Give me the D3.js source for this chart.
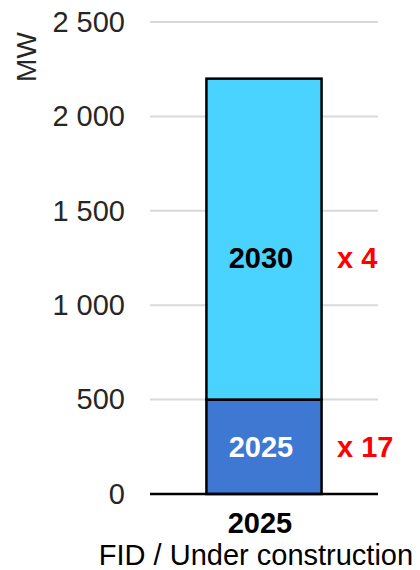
<!DOCTYPE html>
<html>
<head>
<meta charset="utf-8">
<script src="https://cdn.jsdelivr.net/npm/d3@7"></script>
<style>
  html, body { margin: 0; padding: 0; background: #ffffff; }
  svg { display: block; font-family: "Liberation Sans", Arial, sans-serif; }
</style>
</head>
<body>
<svg id="chart" width="420" height="570"></svg>
<script>
// Installed capacity, MW
const categories = ["2025"];
const segmentNames = ["2025", "2030"];
const values2025 = [500];
const values2030 = [1700];
const growthLabels = ["x 17", "x 4"];
// vertical anchor (MW) for the in-bar text and growth labels of each segment
const labelAnchors = [250, 1250];
const tickValues = [0, 500, 1000, 1500, 2000, 2500];
const categorySubtitle = "FID / Under construction";
const unitLabel = "MW";

const colors = { "2025": "#3E78D3", "2030": "#4BD3FF" };
const textColors = { "2025": "#ffffff", "2030": "#000000" };
const fontSize = 29;

const svg = d3.select("#chart");
const plot = { left: 150, right: 378, top: 22, bottom: 494 };

const x = d3.scaleBand()
  .domain(categories)
  .range([plot.left, plot.right])
  .paddingInner(0)
  .paddingOuter(0.49);

const y = d3.scaleLinear()
  .domain([0, 2500])
  .range([plot.bottom, plot.top]);

const locale = d3.formatLocale({ decimal: ",", thousands: " ", grouping: [3], currency: ["", ""] });
const fmt = locale.format(",d");

// gridlines
svg.append("g")
  .selectAll("line")
  .data(tickValues.filter(d => d > 0))
  .join("line")
  .attr("x1", plot.left).attr("x2", plot.right)
  .attr("y1", d => y(d)).attr("y2", d => y(d))
  .attr("stroke", "#d9d9d9")
  .attr("stroke-width", 2);

// y axis labels
const yAxis = d3.axisLeft(y)
  .tickValues(tickValues)
  .tickFormat(fmt)
  .tickSize(0)
  .tickPadding(25);

const yg = svg.append("g")
  .attr("transform", `translate(${plot.left},0)`)
  .call(yAxis);
yg.select(".domain").remove();
yg.selectAll("text")
  .attr("font-size", fontSize)
  .attr("fill", "#262626")
  .attr("font-family", "Liberation Sans, Arial, sans-serif");

// unit label
svg.append("text")
  .attr("transform", `translate(36,57) rotate(-90)`)
  .attr("text-anchor", "middle")
  .attr("font-size", fontSize - 1)
  .attr("fill", "#262626")
  .text(unitLabel);

// stacked bar
const rows = categories.map((c, i) => ({ cat: c, "2025": values2025[i], "2030": values2030[i] }));
const stacked = d3.stack().keys(segmentNames)(rows);

const segs = svg.append("g")
  .selectAll("g")
  .data(stacked)
  .join("g")
  .attr("fill", d => colors[d.key]);

segs.selectAll("rect")
  .data(d => d)
  .join("rect")
  .attr("x", d => x(d.data.cat))
  .attr("width", x.bandwidth())
  .attr("y", d => y(d[1]))
  .attr("height", d => y(d[0]) - y(d[1]))
  .attr("stroke", "#000000")
  .attr("stroke-width", 2.5);

// baseline
svg.append("line")
  .attr("x1", plot.left).attr("x2", plot.right)
  .attr("y1", y(0)).attr("y2", y(0))
  .attr("stroke", "#000000")
  .attr("stroke-width", 2.5);

// segment labels inside the bar and growth factors to the right
segmentNames.forEach((name, i) => {
  const cy = y(labelAnchors[i]);
  svg.append("text")
    .attr("x", x(categories[0]) + x.bandwidth() / 2 - 3)
    .attr("y", cy)
    .attr("dy", "0.36em")
    .attr("text-anchor", "middle")
    .attr("font-size", fontSize)
    .attr("font-weight", "bold")
    .attr("fill", textColors[name])
    .text(name);
  svg.append("text")
    .attr("x", 337)
    .attr("y", cy)
    .attr("dy", "0.36em")
    .attr("text-anchor", "start")
    .attr("font-size", fontSize)
    .attr("font-weight", "bold")
    .attr("fill", "#ff0000")
    .text(growthLabels[i]);
});

// category labels
svg.append("text")
  .attr("x", x(categories[0]) + x.bandwidth() / 2 - 4)
  .attr("y", 533)
  .attr("text-anchor", "middle")
  .attr("font-size", fontSize)
  .attr("font-weight", "bold")
  .attr("fill", "#000000")
  .text(categories[0]);

svg.append("text")
  .attr("x", 256)
  .attr("y", 565)
  .attr("text-anchor", "middle")
  .attr("font-size", fontSize)
  .attr("fill", "#000000")
  .text(categorySubtitle);
</script>
</body>
</html>
